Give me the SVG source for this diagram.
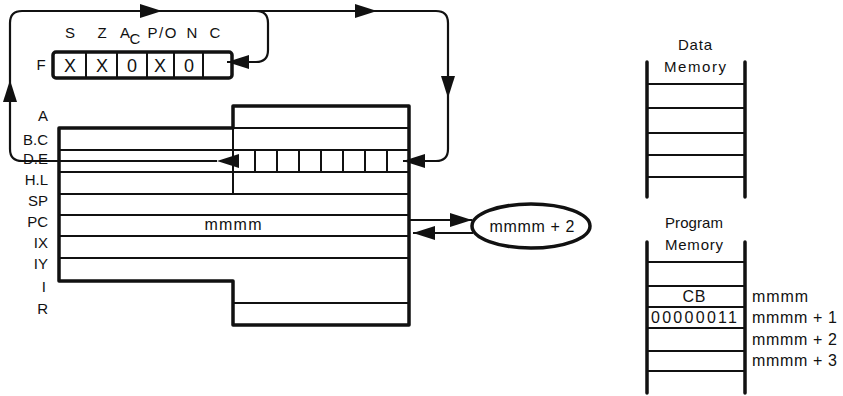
<svg xmlns="http://www.w3.org/2000/svg" xmlns:xlink="http://www.w3.org/1999/xlink" width="843" height="396" viewBox="0 0 843 396">
<style>
text{font-family:"Liberation Sans",Arial,sans-serif;fill:#111}
.t{font-size:15px}
.m{font-size:16px}
.c{text-anchor:middle}
.e{text-anchor:end}
.big{font-size:18px;text-anchor:middle}
.out{fill:none;stroke:#111;stroke-width:3.5;stroke-linejoin:round}
.in{fill:none;stroke:#111;stroke-width:2}
.rail{fill:none;stroke:#111;stroke-width:3.5;stroke-linecap:round}
.wire{fill:none;stroke:#111;stroke-width:2.2}
.ah{fill:#111}
</style>
<defs>
<path id="ah" d="M0 0 L-22 -7 L-22 7 Z"/>
</defs>
<rect width="843" height="396" fill="#fff"/>

<g id="flags">
<text class="t c" x="70" y="38">S</text>
<text class="t c" x="102" y="38">Z</text>
<text class="t c" x="125" y="38">A</text>
<text class="t c" x="135" y="44">C</text>
<text class="t c" x="162" y="38" textLength="29">P/O</text>
<text class="t c" x="192" y="38">N</text>
<text class="t c" x="215" y="38">C</text>
<text class="t c" x="41" y="70">F</text>
<rect class="out" x="53" y="52" width="179" height="26" rx="3"/>
<path class="in" d="M86 52V78M117 52V78M147 52V78M174 52V78M203 52V78"/>
<text class="big" x="70" y="72">X</text>
<text class="big" x="102" y="72">X</text>
<text class="big" x="132" y="72">0</text>
<text class="big" x="160" y="72">X</text>
<text class="big" x="189" y="72">0</text>
</g>

<g id="registers">
<text class="t e" x="48" y="121">A</text>
<text class="t e" x="48" y="145">B.C</text>
<text class="t e" x="48" y="164">D.E</text>
<text class="t e" x="48" y="185">H.L</text>
<text class="t e" x="48" y="206">SP</text>
<text class="t e" x="48" y="227">PC</text>
<text class="t e" x="48" y="248">IX</text>
<text class="t e" x="48" y="269">IY</text>
<text class="t e" x="46" y="292">I</text>
<text class="t e" x="48" y="314">R</text>
<path class="in" d="M233 128H409M59 150H409M59 172H409M59 194H409M59 215H409M59 236H409M59 258H409M233 303H409M233 128V194"/>
<path class="in" d="M255 150V172M277 150V172M299 150V172M321 150V172M343 150V172M365 150V172M387 150V172"/>
<path class="out" d="M59 128H233V106H409V325H233V281H59Z"/>
<text class="m c" x="233" y="230" textLength="57">mmmm</text>
</g>

<g id="pc-value">
<ellipse cx="531" cy="226" rx="59" ry="22" fill="none" stroke="#111" stroke-width="3.5"/>
<text class="m c" x="532" y="232" textLength="85">mmmm + 2</text>
</g>

<g id="data-memory">
<text class="t c" x="695" y="50" textLength="34">Data</text>
<text class="t c" x="695" y="72" textLength="62">Memory</text>
<path class="rail" d="M647 62V197M745 62V197"/>
<path class="in" d="M647 84H745M647 108H745M647 133H745M647 155H745M647 177H745"/>
</g>

<g id="program-memory">
<text class="t c" x="694" y="228" textLength="58">Program</text>
<text class="t c" x="694" y="250" textLength="58">Memory</text>
<path class="rail" d="M647 242V393M745 242V393"/>
<path class="in" d="M647 262H745M647 286H745M647 307H745M647 328H745M647 351H745M647 371H745"/>
<text class="m c" x="694" y="302" textLength="23">CB</text>
<text class="m c" x="694" y="323" textLength="86">00000011</text>
<text class="m" x="752" y="302" textLength="56">mmmm</text>
<text class="m" x="752" y="323" textLength="85">mmmm + 1</text>
<text class="m" x="752" y="345" textLength="85">mmmm + 2</text>
<text class="m" x="752" y="366" textLength="85">mmmm + 3</text>
</g>

<g id="connectors">
<path class="wire" d="M217 161H22Q10 161 10 149V23Q10 11 22 11H436Q448 11 448 23V149Q448 161 436 161H403"/>
<path class="wire" d="M256 11Q268 11 268 23V50Q268 62 256 62H227"/>
<path class="wire" d="M409 220H472M473 233H413"/>
<use href="#ah" class="ah" transform="translate(10 80) rotate(-90)"/>
<use href="#ah" class="ah" transform="translate(162 11)"/>
<use href="#ah" class="ah" transform="translate(377 11)"/>
<use href="#ah" class="ah" transform="translate(448 98) rotate(90)"/>
<use href="#ah" class="ah" transform="translate(403 161) rotate(180)"/>
<use href="#ah" class="ah" transform="translate(217 161) rotate(180)"/>
<use href="#ah" class="ah" transform="translate(227 62) rotate(180)"/>
<use href="#ah" class="ah" transform="translate(472 220)"/>
<use href="#ah" class="ah" transform="translate(413 233) rotate(180)"/>
</g>
</svg>
